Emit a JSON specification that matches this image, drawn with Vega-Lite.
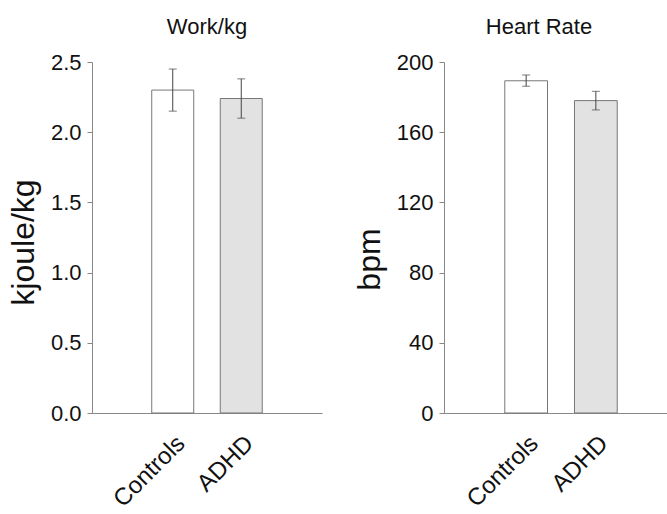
{
  "$schema": "https://vega.github.io/schema/vega-lite/v6.json",
  "background": "white",
  "padding": {"left": 7, "top": 16, "right": 0, "bottom": 0},
  "spacing": 31,
  "datasets": {
    "work": [
      {"group": "Controls", "mean": 2.30, "lower": 2.15, "upper": 2.45},
      {"group": "ADHD", "mean": 2.24, "lower": 2.10, "upper": 2.38}
    ],
    "hr": [
      {"group": "Controls", "mean": 189.3, "lower": 186.2, "upper": 192.6},
      {"group": "ADHD", "mean": 178.0, "lower": 172.7, "upper": 183.3}
    ]
  },
  "config": {
    "font": "Liberation Sans",
    "view": {"stroke": null},
    "title": {"fontSize": 22, "fontWeight": "normal", "color": "#111", "offset": 12},
    "axis": {
      "domainColor": "#888",
      "tickColor": "#888",
      "labelColor": "#111",
      "titleColor": "#111",
      "labelFontSize": 22,
      "titleFontSize": 32,
      "titleFontWeight": "normal",
      "grid": false
    }
  },
  "hconcat": [
    {
      "title": "Work/kg",
      "width": 230,
      "height": 351,
      "data": {"name": "work"},
      "encoding": {
        "x": {
          "field": "group", "type": "nominal", "sort": ["Controls", "ADHD"],
          "scale": {"paddingInner": 0.387, "paddingOuter": 0.872},
          "axis": {"title": null, "labelAngle": -45, "ticks": false, "labelPadding": 18, "labelFontSize": 24}
        }
      },
      "layer": [
        {
          "mark": {"type": "bar", "stroke": "#777", "strokeWidth": 1},
          "encoding": {
            "y": {
              "field": "mean", "type": "quantitative",
              "scale": {"domain": [0, 2.5], "nice": false},
              "axis": {"title": "kjoule/kg", "values": [0, 0.5, 1, 1.5, 2, 2.5], "format": ".1f", "tickSize": 5, "labelPadding": 6, "titlePadding": 10, "titleY": 180}
            },
            "fill": {"field": "group", "type": "nominal", "scale": {"domain": ["Controls", "ADHD"], "range": ["#ffffff", "#e2e2e2"]}, "legend": null}
          }
        },
        {
          "mark": {"type": "rule", "color": "#444", "strokeWidth": 1},
          "encoding": {"y": {"field": "lower", "type": "quantitative"}, "y2": {"field": "upper"}}
        },
        {
          "mark": {"type": "tick", "color": "#444", "size": 8, "thickness": 1},
          "encoding": {"y": {"field": "lower", "type": "quantitative"}}
        },
        {
          "mark": {"type": "tick", "color": "#444", "size": 8, "thickness": 1},
          "encoding": {"y": {"field": "upper", "type": "quantitative"}}
        }
      ]
    },
    {
      "title": {"text": "Heart Rate", "dx": -22},
      "width": 234,
      "height": 351,
      "data": {"name": "hr"},
      "encoding": {
        "x": {
          "field": "group", "type": "nominal", "sort": ["Controls", "ADHD"],
          "scale": {"paddingInner": 0.387, "paddingOuter": 0.872},
          "axis": {"title": null, "labelAngle": -45, "ticks": false, "labelPadding": 18, "labelFontSize": 24}
        }
      },
      "layer": [
        {
          "mark": {"type": "bar", "stroke": "#777", "strokeWidth": 1},
          "encoding": {
            "y": {
              "field": "mean", "type": "quantitative",
              "scale": {"domain": [0, 200], "nice": false},
              "axis": {"title": "bpm", "values": [0, 40, 80, 120, 160, 200], "tickSize": 5, "labelPadding": 6, "titlePadding": 10, "titleY": 197}
            },
            "fill": {"field": "group", "type": "nominal", "scale": {"domain": ["Controls", "ADHD"], "range": ["#ffffff", "#e2e2e2"]}, "legend": null}
          }
        },
        {
          "mark": {"type": "rule", "color": "#444", "strokeWidth": 1},
          "encoding": {"y": {"field": "lower", "type": "quantitative"}, "y2": {"field": "upper"}}
        },
        {
          "mark": {"type": "tick", "color": "#444", "size": 8, "thickness": 1},
          "encoding": {"y": {"field": "lower", "type": "quantitative"}}
        },
        {
          "mark": {"type": "tick", "color": "#444", "size": 8, "thickness": 1},
          "encoding": {"y": {"field": "upper", "type": "quantitative"}}
        }
      ]
    }
  ]
}
